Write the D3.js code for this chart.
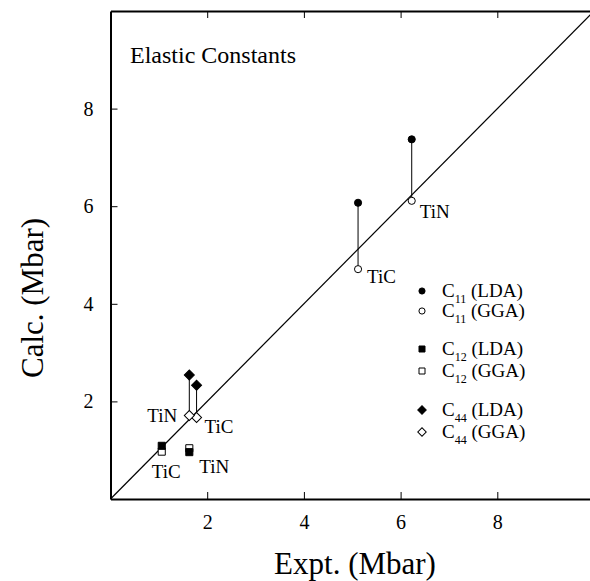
<!doctype html>
<html>
<head>
<meta charset="utf-8">
<title>Elastic Constants</title>
<script src="https://cdnjs.cloudflare.com/ajax/libs/d3/7.8.5/d3.min.js"></script>
<style>
body { margin: 0; background: #fff; }
svg { display: block; }
text { font-family: "Liberation Serif", "Times New Roman", serif; fill: #000; }
.axis path { stroke: #000; stroke-width: 2; }
.axis line { stroke: #000; stroke-width: 1; }
.axis text { font-size: 20px; }
</style>
</head>
<body>
<div id="chartContainer"></div>
<script>
// compounds, in the order used by every series below
var compounds = ["TiC", "TiN"];

// experimental and calculated elastic constants (Mbar)
var c11Expt = [5.12, 6.23];
var c11LDA  = [6.07, 7.37];
var c11GGA  = [4.71, 6.11];

var c12Expt = [1.06, 1.63];
var c12LDA  = [1.09, 0.96];
var c12GGA  = [0.97, 1.04];

var c44Expt = [1.78, 1.63];
var c44LDA  = [2.33, 2.54];
var c44GGA  = [1.67, 1.71];

var tickValues = [2, 4, 6, 8];

var width = 590, height = 581;
var svg = d3.select("#chartContainer").append("svg")
	.attr("width", width)
	.attr("height", height);

var x = d3.scaleLinear().domain([0, 10]).range([110.5, 594]);
var y = d3.scaleLinear().domain([0, 10]).range([499, 11]);

// frame: bottom, left and top, ticks pointing inward
svg.append("g").attr("class", "axis")
	.attr("transform", "translate(0," + y(0) + ")")
	.call(d3.axisBottom(x).tickValues(tickValues).tickSize(-7).tickPadding(16).tickSizeOuter(0));
svg.append("g").attr("class", "axis")
	.attr("transform", "translate(" + x(0) + ",0)")
	.call(d3.axisLeft(y).tickValues(tickValues).tickSize(-7).tickPadding(17).tickSizeOuter(0));
svg.append("g").attr("class", "axis")
	.attr("transform", "translate(0," + y(10) + ")")
	.call(d3.axisTop(x).tickValues(tickValues).tickSize(-7).tickFormat("").tickSizeOuter(0));

// x = y line
svg.append("line")
	.attr("x1", x(0)).attr("y1", y(0))
	.attr("x2", x(10)).attr("y2", y(10))
	.style("stroke", "#000").style("stroke-width", 1.2);

// titles
svg.append("text")
	.attr("x", 130).attr("y", 63)
	.style("font-size", "24px")
	.text("Elastic Constants");

svg.append("text")
	.attr("x", 355).attr("y", 574)
	.attr("text-anchor", "middle")
	.style("font-size", "31px")
	.text("Expt. (Mbar)");

svg.append("text")
	.attr("transform", "translate(43,298) rotate(-90)")
	.attr("text-anchor", "middle")
	.style("font-size", "31px")
	.text("Calc. (Mbar)");

// symbols
var circle = d3.symbol().type(d3.symbolCircle).size(40);
var square = d3.symbol().type(d3.symbolSquare).size(50);
var diamond = d3.symbol().type(d3.symbolSquare).size(50);

var series = [
	{ expt: c11Expt, lda: c11LDA, gga: c11GGA, sym: circle, rot: 0, link: true },
	{ expt: c12Expt, lda: c12LDA, gga: c12GGA, sym: square, rot: 0, link: false },
	{ expt: c44Expt, lda: c44LDA, gga: c44GGA, sym: diamond, rot: 45, link: true }
];

var marks = svg.append("g");

series.forEach(function(s) {
	if (s.link) {
		marks.selectAll(null).data(compounds).enter().append("line")
			.attr("x1", function(d, i) { return x(s.expt[i]); })
			.attr("x2", function(d, i) { return x(s.expt[i]); })
			.attr("y1", function(d, i) { return y(s.lda[i]); })
			.attr("y2", function(d, i) { return y(s.gga[i]); })
			.style("stroke", "#000").style("stroke-width", 1);
	}
	// open GGA markers first, filled LDA markers drawn over them
	marks.selectAll(null).data(compounds).enter().append("path")
		.attr("d", s.sym)
		.attr("transform", function(d, i) {
			return "translate(" + x(s.expt[i]) + "," + y(s.gga[i]) + ") rotate(" + s.rot + ")";
		})
		.style("fill", "#fff").style("stroke", "#000").style("stroke-width", 1);
	marks.selectAll(null).data(compounds).enter().append("path")
		.attr("d", s.sym)
		.attr("transform", function(d, i) {
			return "translate(" + x(s.expt[i]) + "," + y(s.lda[i]) + ") rotate(" + s.rot + ")";
		})
		.style("fill", "#000").style("stroke", "#000").style("stroke-width", 1);
});

// compound labels next to the points
var labels = [
	{ expt: c11Expt, calc: c11GGA, i: 1, dx: 8, dy: 17 },
	{ expt: c11Expt, calc: c11GGA, i: 0, dx: 9, dy: 14 },
	{ expt: c44Expt, calc: c44GGA, i: 1, dx: -42, dy: 6 },
	{ expt: c44Expt, calc: c44GGA, i: 0, dx: 8, dy: 15 },
	{ expt: c12Expt, calc: c12GGA, i: 0, dx: -10, dy: 26 },
	{ expt: c12Expt, calc: c12LDA, i: 1, dx: 10, dy: 21 }
];
svg.append("g").selectAll("text").data(labels).enter().append("text")
	.attr("x", function(d) { return x(d.expt[d.i]) + d.dx; })
	.attr("y", function(d) { return y(d.calc[d.i]) + d.dy; })
	.style("font-size", "19px")
	.text(function(d) { return compounds[d.i]; });

// legend
var legendRows = [
	{ sub: "11", method: "LDA", sym: circle, rot: 0, fill: "#000", y: 291 },
	{ sub: "11", method: "GGA", sym: circle, rot: 0, fill: "#fff", y: 311 },
	{ sub: "12", method: "LDA", sym: square, rot: 0, fill: "#000", y: 349 },
	{ sub: "12", method: "GGA", sym: square, rot: 0, fill: "#fff", y: 371 },
	{ sub: "44", method: "LDA", sym: diamond, rot: 45, fill: "#000", y: 410 },
	{ sub: "44", method: "GGA", sym: diamond, rot: 45, fill: "#fff", y: 432 }
];
var legend = svg.append("g").selectAll("g").data(legendRows).enter().append("g")
	.attr("transform", function(d) { return "translate(422," + d.y + ")"; });
legend.append("path")
	.attr("d", function(d) { return d.sym.size(d.sym === circle ? 30 : 36)(); })
	.attr("transform", function(d) { return "rotate(" + d.rot + ")"; })
	.style("fill", function(d) { return d.fill; })
	.style("stroke", "#000").style("stroke-width", 1);
var lt = legend.append("text")
	.attr("x", 20).attr("y", 6)
	.style("font-size", "19px");
lt.append("tspan").text("C");
lt.append("tspan").attr("dy", 6).style("font-size", "12px").text(function(d) { return d.sub; });
lt.append("tspan").attr("dy", -6).text(function(d) { return " (" + d.method + ")"; });
</script>
</body>
</html>
